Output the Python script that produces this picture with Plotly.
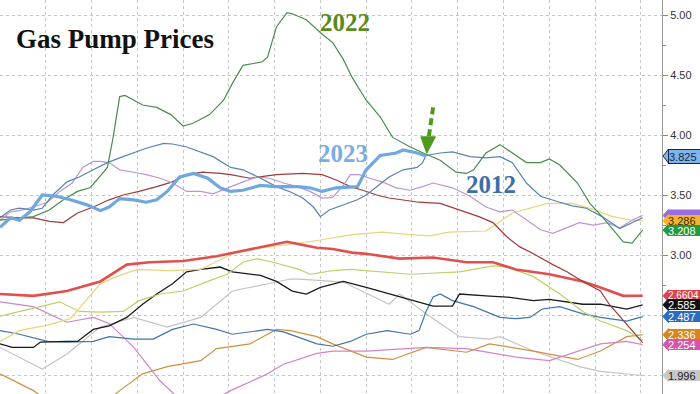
import plotly.graph_objects as go

# ---------------- data (day of year, retail gasoline price $/gal) ----------------
days_2022 = [0, 11, 19, 28, 36, 44, 51, 55, 61, 64, 68, 71, 76, 81, 89, 97, 104, 110, 119, 127, 132, 138, 149, 152, 157,
             163, 166, 174, 183, 189, 195, 200, 208, 216, 223, 233, 242, 250, 259, 265, 269, 276, 284, 291, 299, 307,
             312, 318, 328, 335, 342, 350, 354, 359, 362, 365]
price_2022 = [3.29, 3.31, 3.32, 3.375, 3.46, 3.53, 3.56, 3.625, 3.73, 3.96, 4.32, 4.33, 4.29, 4.25, 4.23, 4.17, 4.075,
              4.10, 4.17, 4.29, 4.43, 4.58, 4.61, 4.65, 4.90, 5.02, 5.01, 4.96, 4.84, 4.77, 4.63, 4.48, 4.29, 4.15,
              3.98, 3.90, 3.84, 3.79, 3.69, 3.68, 3.71, 3.85, 3.92, 3.85, 3.77, 3.77, 3.80, 3.75, 3.60, 3.43, 3.32,
              3.18, 3.11, 3.10, 3.15, 3.208]

days_2023 = [0, 6, 11, 17, 24, 32, 40, 49, 57, 62, 68, 76, 83, 89, 95, 102, 110, 118, 125, 131, 138, 148, 157, 169, 176,
             183, 191, 199, 203, 208, 216, 225, 229, 237, 242]
price_2023 = [3.23, 3.31, 3.29, 3.36, 3.50, 3.49, 3.46, 3.42, 3.37, 3.40, 3.47, 3.46, 3.44, 3.46, 3.53, 3.65, 3.68,
              3.64, 3.56, 3.53, 3.54, 3.58, 3.57, 3.57, 3.56, 3.53, 3.56, 3.57, 3.57, 3.71, 3.83, 3.85, 3.875, 3.85,
              3.825]

days_2012 = [0, 6, 11, 19, 24, 30, 38, 45, 53, 61, 68, 76, 83, 93, 98, 106, 114, 121, 131, 138, 148, 157, 165, 172, 178,
             182, 187, 195, 203, 208, 214, 221, 229, 237, 240, 242, 250, 257, 267, 276, 284, 291, 299, 307, 318, 325,
             333, 342, 352, 359, 365]
price_2012 = [3.31, 3.375, 3.39, 3.375, 3.39, 3.50, 3.61, 3.65, 3.71, 3.77, 3.81, 3.85, 3.89, 3.93, 3.925, 3.90, 3.86,
              3.82, 3.73, 3.71, 3.64, 3.57, 3.525, 3.475, 3.40, 3.32, 3.375, 3.42, 3.46, 3.50, 3.57, 3.65, 3.71, 3.73,
              3.77, 3.83, 3.85, 3.86, 3.82, 3.81, 3.82, 3.77, 3.60, 3.49, 3.44, 3.41, 3.39, 3.32, 3.22, 3.27, 3.31]

days_2013 = [0, 6, 11, 19, 27, 34, 41, 47, 53, 57, 62, 68, 76, 83, 91, 98, 106, 114, 121, 131, 138, 146, 153, 161, 169,
             176, 183, 189, 195, 199, 204, 210, 217, 225, 233, 240, 246, 257, 267, 276, 284, 291, 299, 307, 314, 322,
             329, 337, 345, 352, 359, 365]
price_2013 = [3.29, 3.36, 3.37, 3.40, 3.44, 3.53, 3.60, 3.73, 3.78, 3.78, 3.77, 3.71, 3.69, 3.67, 3.64, 3.60, 3.53,
              3.53, 3.51, 3.57, 3.61, 3.65, 3.64, 3.60, 3.57, 3.53, 3.475, 3.48, 3.58, 3.67, 3.67, 3.64, 3.61, 3.56,
              3.54, 3.57, 3.60, 3.56, 3.49, 3.40, 3.36, 3.375, 3.29, 3.21, 3.18, 3.225, 3.27, 3.25, 3.27, 3.225, 3.29,
              3.33]

days_2014 = [0, 11, 19, 28, 36, 44, 53, 62, 70, 79, 89, 98, 106, 115, 125, 131, 142, 157, 172, 183, 191, 199, 206, 214,
             221, 229, 238, 250, 261, 272, 280, 288, 295, 303, 314, 322, 331, 341, 346, 356, 365]
price_2014 = [3.32, 3.31, 3.31, 3.28, 3.27, 3.35, 3.40, 3.46, 3.50, 3.53, 3.57, 3.61, 3.67, 3.69, 3.68, 3.67, 3.64,
              3.67, 3.68, 3.67, 3.625, 3.57, 3.54, 3.50, 3.475, 3.46, 3.44, 3.43, 3.375, 3.32, 3.27, 3.15, 3.07, 3.01,
              2.92, 2.86, 2.78, 2.70, 2.59, 2.42, 2.27]

days_avg = [0, 19, 38, 57, 72, 85, 104, 123, 136, 152, 163, 170, 180, 189, 200, 208, 227, 246, 265, 280, 293, 312, 331,
            341, 354, 365]
price_avg = [2.675, 2.66, 2.70, 2.78, 2.92, 2.94, 2.95, 2.99, 3.03, 3.075, 3.11, 3.09, 3.06, 3.05, 3.02, 3.01, 2.97,
             2.98, 2.94, 2.94, 2.88, 2.84, 2.78, 2.73, 2.66, 2.6604]

days_2021 = [0, 11, 28, 40, 47, 57, 66, 78, 95, 114, 132, 144, 165, 182, 200, 217, 233, 244, 255, 276, 284, 291, 311,
             325, 337, 348, 359, 365]
price_2021 = [2.28, 2.37, 2.42, 2.47, 2.59, 2.76, 2.82, 2.88, 2.87, 2.88, 3.01, 3.05, 3.09, 3.125, 3.17, 3.19, 3.17,
              3.16, 3.19, 3.20, 3.28, 3.35, 3.43, 3.43, 3.38, 3.32, 3.29, 3.286]

days_2018 = [0, 11, 23, 34, 45, 57, 70, 79, 91, 104, 118, 129, 138, 146, 155, 170, 176, 189, 199, 216, 233, 261, 280,
             288, 303, 318, 331, 341, 356, 365]
price_2018 = [2.49, 2.53, 2.575, 2.61, 2.53, 2.525, 2.53, 2.62, 2.675, 2.70, 2.78, 2.84, 2.94, 2.97, 2.94, 2.88, 2.84,
              2.87, 2.88, 2.86, 2.84, 2.86, 2.91, 2.90, 2.82, 2.675, 2.53, 2.45, 2.37, 2.29]

days_2019 = [0, 7, 19, 23, 38, 44, 53, 62, 72, 81, 89, 98, 106, 114, 125, 132, 148, 157, 166, 174, 182, 195, 208, 227,
             246, 257, 261, 276, 288, 303, 312, 331, 341, 356, 365]
price_2019 = [2.26, 2.23, 2.23, 2.275, 2.28, 2.28, 2.38, 2.41, 2.48, 2.59, 2.675, 2.76, 2.86, 2.88, 2.90, 2.86, 2.83,
              2.78, 2.70, 2.675, 2.73, 2.78, 2.73, 2.65, 2.575, 2.575, 2.675, 2.66, 2.65, 2.62, 2.63, 2.59, 2.59, 2.55,
              2.585]

days_2017 = [0, 11, 27, 38, 53, 62, 76, 87, 98, 110, 123, 132, 152, 161, 180, 189, 199, 208, 220, 233, 238, 242, 246,
             250, 257, 269, 284, 293, 301, 308, 318, 331, 341, 356, 365]
price_2017 = [2.37, 2.34, 2.28, 2.275, 2.28, 2.32, 2.30, 2.30, 2.38, 2.425, 2.38, 2.34, 2.38, 2.36, 2.26, 2.24, 2.28,
              2.34, 2.37, 2.34, 2.37, 2.53, 2.65, 2.675, 2.62, 2.57, 2.48, 2.47, 2.48, 2.55, 2.57, 2.51, 2.48, 2.45,
              2.487]

days_2015 = [0, 24, 38, 57, 76, 95, 114, 132, 157, 165, 170, 195, 221, 227, 242, 261, 278, 284, 303, 329, 341, 365]
price_2015 = [2.23, 2.05, 2.175, 2.40, 2.48, 2.40, 2.48, 2.70, 2.775, 2.80, 2.80, 2.775, 2.59, 2.675, 2.51, 2.32, 2.30,
              2.32, 2.20, 2.07, 2.03, 1.996]

days_2016 = [0, 19, 28, 45, 62, 68, 81, 95, 114, 123, 142, 157, 165, 180, 189, 199, 208, 223, 242, 265, 278, 303, 328,
             341, 356, 365]
price_2016 = [2.01, 1.87, 1.78, 1.72, 1.80, 1.87, 2.01, 2.07, 2.12, 2.22, 2.26, 2.38, 2.37, 2.32, 2.26, 2.20, 2.15,
              2.13, 2.23, 2.19, 2.26, 2.20, 2.13, 2.20, 2.32, 2.336]

days_2020 = [0, 19, 38, 53, 62, 76, 91, 99, 111, 122, 131, 152, 161, 170, 180, 189, 208, 242, 265, 293, 312, 341, 356,
             365]
price_2020 = [2.61, 2.57, 2.44, 2.48, 2.43, 2.23, 1.95, 1.84, 1.77, 1.80, 1.87, 2.01, 2.09, 2.13, 2.18, 2.20, 2.20,
              2.23, 2.22, 2.15, 2.12, 2.26, 2.28, 2.254]

y_tick_values = [2.0, 2.5, 3.0, 3.5, 4.0, 4.5, 5.0]
y_tick_labels = ["", "", "3.00", "3.50", "4.00", "4.50", "5.00"]

# ---------------- styling ----------------
Y_MIN, Y_MAX = 1.842, 5.125
X_MAX = 376

series = [
    # (days, prices, colour, width)
    (days_2015, price_2015, "#c4c4c4", 1.2),
    (days_2016, price_2016, "#d09040", 1.2),
    (days_2020, price_2020, "#d384c6", 1.2),
    (days_2017, price_2017, "#3f74ac", 1.2),
    (days_2019, price_2019, "#1a1a1a", 1.3),
    (days_2018, price_2018, "#bcd266", 1.2),
    (days_2021, price_2021, "#ead47a", 1.2),
    (days_avg, price_avg, "#e0504e", 2.6),
    (days_2014, price_2014, "#9e3b3b", 1.2),
    (days_2013, price_2013, "#bb95db", 1.2),
    (days_2012, price_2012, "#5585b4", 1.2),
    (days_2022, price_2022, "#4b8c4d", 1.2),
    (days_2023, price_2023, "#6ea8de", 3.2),
]

# right-hand value flags: (value, text, fill, text colour, border, font size)
flags = [
    (price_2023[-1], "3.825", "#80b4ea", "#10294a", "#10294a", 11),
    (price_2013[-1], None, "#9a6ee0", "#ffffff", None, 11),      # hidden behind the next flag
    (price_2021[-1], "3.286", "#f4b52c", "#3a2a00", None, 11),
    (price_2022[-1], "3.208", "#1f9a3c", "#ffffff", None, 11),
    (price_avg[-1], "2.6604", "#e2404a", "#ffffff", None, 10),
    (price_2019[-1], "2.585", "#111111", "#ffffff", None, 11),
    (price_2017[-1], "2.487", "#2a6cc0", "#ffffff", None, 11),
    (price_2016[-1], "2.336", "#d9841c", "#ffffff", None, 11),
    (price_2020[-1], "2.254", "#d953aa", "#ffffff", None, 11),
    (price_2015[-1], "1.996", "#c8c8c8", "#222222", None, 11),
]

fig = go.Figure()
for d, p, c, w in series:
    fig.add_trace(go.Scatter(x=d, y=p, mode="lines", line=dict(color=c, width=w),
                             hoverinfo="skip", showlegend=False))

PLOT_W = 662.0
PLOT_H = 394.0
shapes = []
annotations = []
for v, txt, fill, fg, border, fsize in flags:
    yc = (v - Y_MIN) / (Y_MAX - Y_MIN)
    half = (7.0 if border else 6.0) / PLOT_H
    x_tip = 1.0 + 1.0 / PLOT_W
    x_body = 1.0 + 6.5 / PLOT_W
    shapes.append(dict(type="path", xref="paper", yref="paper",
                       path=f"M {x_tip},{yc} L {x_body},{yc + half} L {x_body},{yc - half} Z",
                       fillcolor=fill, line=dict(color=border if border else fill, width=1), layer="above"))
    if txt is None:
        shapes.append(dict(type="rect", xref="paper", yref="paper", x0=x_body, x1=1.1, y0=yc - half, y1=yc + half,
                           fillcolor=fill, line=dict(width=0), layer="above"))
        continue
    annotations.append(dict(xref="paper", yref="y", x=x_body - 0.5 / PLOT_W, y=v, xanchor="left", yanchor="middle",
                            text=txt, showarrow=False, align="left", width=40, height=13 if border else 11,
                            bgcolor=fill, bordercolor=border if border else fill, borderwidth=1 if border else 0,
                            borderpad=0, font=dict(family="Liberation Sans, Arial, sans-serif", size=fsize, color=fg)))

# green dashed arrow pointing at the 2022 / 2023 crossover
shapes.append(dict(type="line", xref="x", yref="y", x0=246.0, y0=4.23, x1=243.6, y1=3.99,
                   line=dict(color="#4f9a1f", width=4, dash="7px,4px"), layer="above"))
shapes.append(dict(type="path", xref="x", yref="y",
                   path="M 239.0,3.985 L 247.3,3.985 L 242.4,3.848 Z",
                   fillcolor="#4f9a1f", line=dict(color="#4f9a1f", width=1), layer="above"))

serif = "Liberation Serif, Times New Roman, serif"
annotations += [
    dict(xref="paper", yref="paper", x=14 / PLOT_W, y=1 - 39 / PLOT_H, xanchor="left", yanchor="middle",
         text="<b>Gas Pump Prices</b>", showarrow=False, font=dict(family=serif, size=27, color="#111111")),
    dict(xref="x", yref="y", x=196, y=4.94, text="<b>2022</b>", showarrow=False,
         font=dict(family=serif, size=25, color="#5b8a1c")),
    dict(xref="x", yref="y", x=195, y=3.85, text="<b>2023</b>", showarrow=False,
         font=dict(family=serif, size=25, color="#79ade4")),
    dict(xref="x", yref="y", x=279, y=3.59, text="<b>2012</b>", showarrow=False,
         font=dict(family=serif, size=25, color="#3c6ea8")),
]

grid = dict(showgrid=True, gridcolor="#c6c6c6", gridwidth=1, griddash="dot", zeroline=False)
fig.update_layout(
    width=700, height=394,
    margin=dict(l=0, r=38, t=0, b=0),
    paper_bgcolor="white", plot_bgcolor="white",
    showlegend=False,
    hovermode=False,
    xaxis=dict(range=[0, X_MAX], tickmode="linear", tick0=0, dtick=26, showticklabels=False,
               ticks="", showline=False, **grid),
    yaxis=dict(range=[Y_MIN, Y_MAX], side="right", tickmode="array", tickvals=y_tick_values,
               ticktext=y_tick_labels, ticks="outside", ticklen=5, tickcolor="#8a8a8a",
               showline=True, linecolor="#9a9a9a", linewidth=1,
               tickfont=dict(family="Liberation Sans, Arial, sans-serif", size=11, color="#333333"),
               minor=dict(tickmode="linear", tick0=0, dtick=0.25, ticks="outside", ticklen=3,
                          tickcolor="#8a8a8a", showgrid=False),
               **grid),
    shapes=shapes,
    annotations=annotations,
)

fig.write_html("out.html", config={"displayModeBar": False, "staticPlot": True},
               post_script="document.body.style.margin='0px';document.body.style.overflow='hidden';")
